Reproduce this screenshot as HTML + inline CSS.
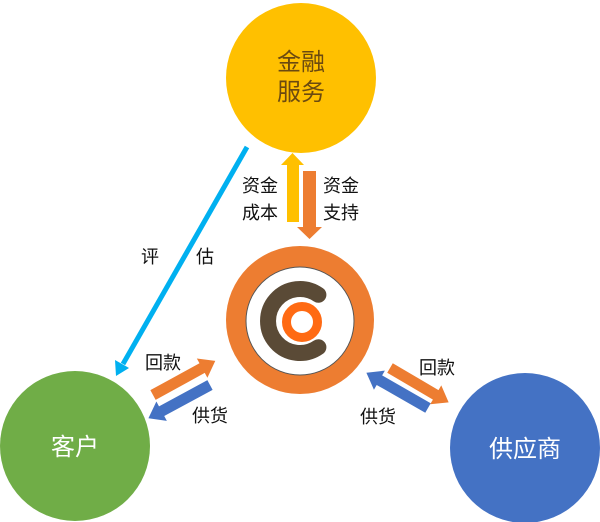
<!DOCTYPE html>
<html><head><meta charset="utf-8"><style>
html,body{margin:0;padding:0;background:#fff;}
svg{display:block;}
text{font-family:"Liberation Sans","Noto Sans CJK SC",sans-serif;}
</style></head><body>
<svg width="600" height="522" viewBox="0 0 600 522" xmlns="http://www.w3.org/2000/svg">
<circle cx="301" cy="78" r="75" fill="#FFC000"/>
<text x="301" y="70" font-size="24" fill="#6B4A10" text-anchor="middle">金融</text>
<text x="301" y="100" font-size="24" fill="#6B4A10" text-anchor="middle">服务</text>

<circle cx="75" cy="446" r="75" fill="#70AD47"/>
<text x="75" y="455" font-size="24" fill="#fff" text-anchor="middle">客户</text>
<circle cx="525" cy="448" r="75" fill="#4472C4"/>
<text x="525" y="457" font-size="24" fill="#fff" text-anchor="middle">供应商</text>

<circle cx="300" cy="320" r="74" fill="#ED7D31"/>
<circle cx="300" cy="321" r="54" fill="#fff" stroke="#555" stroke-width="1"/>
<path d="M318.4,294.8 A32 32 0 1 0 318.4,347.2" fill="none" stroke="#5A4A36" stroke-width="16" stroke-linecap="round"/>
<circle cx="302" cy="322" r="15.5" fill="none" stroke="#FF6A13" stroke-width="9"/>

<polygon points="287,222 287,165 281,165 292.5,153 304,165 299,165 299,222" fill="#FFC000"/>
<polygon points="303,171 303,227 297,227 309.5,239 322,227 316,227 316,171" fill="#ED7D31"/>
<text x="260" y="192" font-size="18" fill="#111" text-anchor="middle">资金</text>
<text x="260" y="219" font-size="18" fill="#111" text-anchor="middle">成本</text>
<text x="341" y="192" font-size="18" fill="#111" text-anchor="middle">资金</text>
<text x="341" y="219" font-size="18" fill="#111" text-anchor="middle">支持</text>

<line x1="247" y1="147" x2="123" y2="364" stroke="#00B0F0" stroke-width="5"/>
<polygon points="116,376 115,360 129,368" fill="#00B0F0"/>
<text x="150" y="263" font-size="18" fill="#111" text-anchor="middle">评</text>
<text x="205" y="263" font-size="18" fill="#111" text-anchor="middle">估</text>

<g transform="translate(153,395) rotate(-28.7)"><polygon points="0,-5.5 56,-5.5 56,-11 71,0 56,11 56,5.5 0,5.5" fill="#ED7D31"/></g>
<g transform="translate(210,385) rotate(151.6)"><polygon points="0,-5.5 55,-5.5 55,-11 70,0 55,11 55,5.5 0,5.5" fill="#4472C4"/></g>
<g transform="translate(428,408) rotate(209.8)"><polygon points="0,-5.5 56,-5.5 56,-11 71,0 56,11 56,5.5 0,5.5" fill="#4472C4"/></g>
<g transform="translate(390,368) rotate(30.4)"><polygon points="0,-5.5 53,-5.5 53,-11 68,0 53,11 53,5.5 0,5.5" fill="#ED7D31"/></g>
<text x="163" y="369" font-size="18" fill="#111" text-anchor="middle">回款</text>
<text x="210" y="422" font-size="18" fill="#111" text-anchor="middle">供货</text>
<text x="437" y="374" font-size="18" fill="#111" text-anchor="middle">回款</text>
<text x="378" y="423" font-size="18" fill="#111" text-anchor="middle">供货</text>
</svg>
</body></html>
